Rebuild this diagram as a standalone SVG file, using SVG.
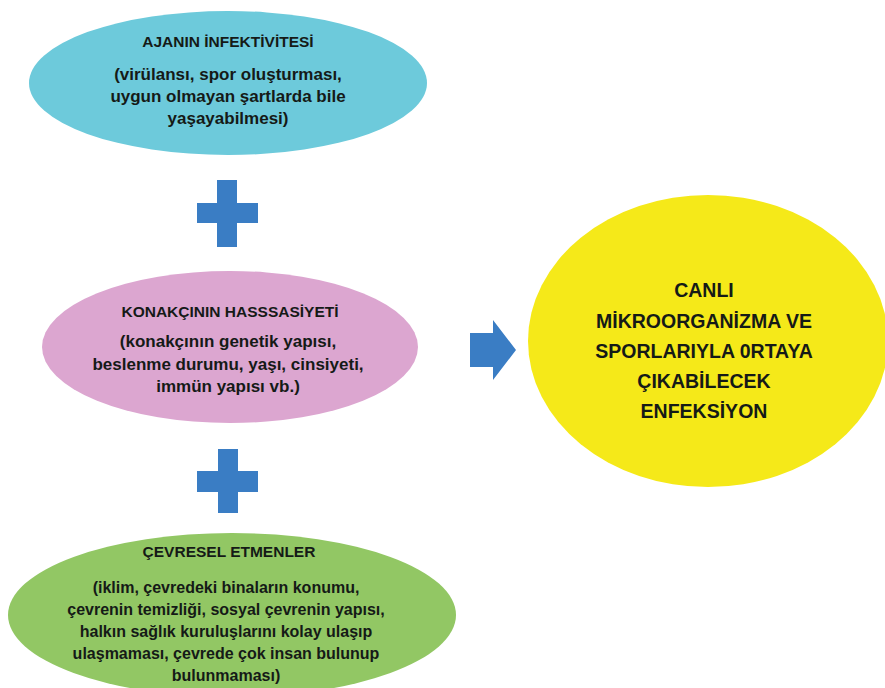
<svg xmlns="http://www.w3.org/2000/svg" width="885" height="688" viewBox="0 0 885 688">
<style>
text{font-family:"Liberation Sans",Arial,sans-serif;font-weight:bold;fill:#151a17;text-anchor:middle}
.t{font-size:15.5px}
.b{font-size:17px}
.g{font-size:16px}
.y{font-size:19.5px}
.sym{fill:#3a7dc4}
</style>
<rect width="885" height="688" fill="#ffffff"/>
<g id="node-ajan">
<ellipse cx="228" cy="83" rx="199" ry="72" fill="#6dcadb"/>
<text class="t" x="228" y="47">AJANIN İNFEKTİVİTESİ</text>
<text class="b" x="228" y="80">(virülansı, spor oluşturması,</text>
<text class="b" x="228" y="102">uygun olmayan şartlarda bile</text>
<text class="b" x="228" y="124">yaşayabilmesi)</text>
</g>
<g id="node-konak">
<ellipse cx="230" cy="347" rx="188" ry="76" fill="#dca6d0"/>
<text class="t" x="230" y="317">KONAKÇININ HASSSASİYETİ</text>
<text class="b" x="228" y="347">(konakçının genetik yapısı,</text>
<text class="b" x="228" y="370">beslenme durumu, yaşı, cinsiyeti,</text>
<text class="b" x="228" y="392">immün yapısı vb.)</text>
</g>
<g id="node-cevre">
<ellipse cx="232" cy="615" rx="224" ry="82" fill="#92c764"/>
<text class="t" x="229" y="557">ÇEVRESEL ETMENLER</text>
<text class="g" x="226" y="593">(iklim, çevredeki binaların konumu,</text>
<text class="g" x="226" y="615">çevrenin temizliği, sosyal çevrenin yapısı,</text>
<text class="g" x="226" y="637">halkın sağlık kuruluşlarını kolay ulaşıp</text>
<text class="g" x="226" y="659">ulaşmaması, çevrede çok insan bulunup</text>
<text class="g" x="226" y="681">bulunmaması)</text>
</g>
<g id="node-enfeksiyon">
<ellipse cx="708" cy="341" rx="180" ry="146" fill="#f5e919"/>
<text class="y" x="704" y="297">CANLI</text>
<text class="y" x="704" y="328">MİKROORGANİZMA VE</text>
<text class="y" x="704" y="358">SPORLARIYLA 0RTAYA</text>
<text class="y" x="704" y="388">ÇIKABİLECEK</text>
<text class="y" x="704" y="418">ENFEKSİYON</text>
</g>
<g id="connectors">
<path class="sym" d="M217 180H237V203H258V223H237V247H217V223H197V203H217Z"/>
<path class="sym" d="M218 449H238V471H258V492H238V513H218V492H197V471H218Z"/>
<path class="sym" d="M470 333H493V320L516 350L493 380V367H470Z"/>
</g>
</svg>
